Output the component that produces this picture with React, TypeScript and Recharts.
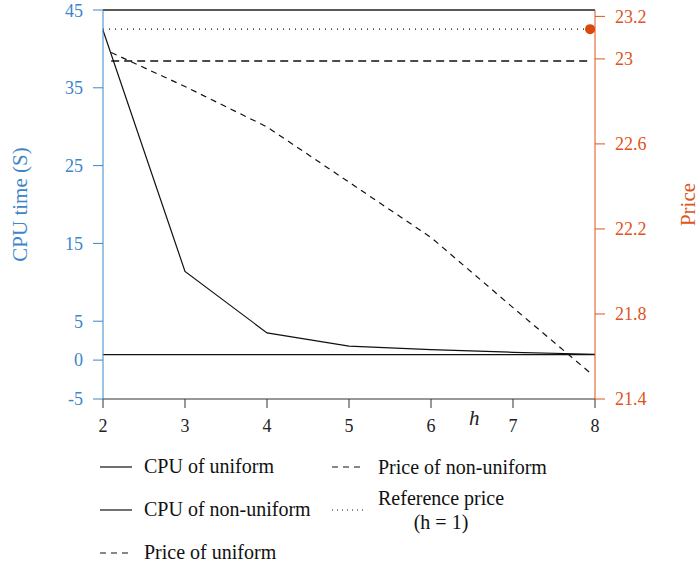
import { LineChart, Line, XAxis, YAxis, Legend, ReferenceLine } from "recharts"

const hTicks = [2, 3, 4, 5, 6, 7, 8]
const cpuTicks = [-5, 0, 5, 15, 25, 35, 45]
const priceTicks = [21.4, 21.8, 22.2, 22.6, 23, 23.2]

const cpuH = [2, 3, 4, 5, 6, 7, 8]
const cpuUniform = [0.7, 0.7, 0.7, 0.7, 0.7, 0.7, 0.7]
const cpuNonUniform = [42.4, 11.4, 3.5, 1.8, 1.35, 1.0, 0.75]

const priceH = [2.1, 3, 4, 5, 6, 7, 7.95]
const priceUniform = [22.99, 22.99, 22.99, 22.99, 22.99, 22.99, 22.99]
const priceNonUniform = [23.03, 22.87, 22.68, 22.42, 22.16, 21.83, 21.52]

const refH = [2, 7.94]
const refPrice = [23.14, 23.14]

const BLUE = "#3d85c8"
const ORANGE = "#e0531b"
const FONT = "'Liberation Serif', 'DejaVu Serif', serif"

const cpuUniformData = cpuH.map((h, i) => ({ h, v: cpuUniform[i] }))
const cpuNonUniformData = cpuH.map((h, i) => ({ h, v: cpuNonUniform[i] }))
const priceUniformData = priceH.map((h, i) => ({ h, v: priceUniform[i] }))
const priceNonUniformData = priceH.map((h, i) => ({ h, v: priceNonUniform[i] }))
const refData = refH.map((h, i) => ({ h, v: refPrice[i] }))

const legendCol1 = [
  { name: "CPU of uniform", dash: undefined },
  { name: "CPU of non-uniform", dash: undefined },
  { name: "Price of uniform", dash: "6 5" },
]
const legendCol2 = [
  { name: "Price of non-uniform", dash: "6 5" },
  { name: "Reference price", sub: "(h = 1)", dash: "1 4" },
]

function Sample({ dash }: { dash?: string }) {
  return (
    <svg width={32} height={10} style={{ display: "block", flexShrink: 0 }}>
      <line x1={0} y1={5} x2={32} y2={5} stroke="#111" strokeWidth={1.2} strokeDasharray={dash} />
    </svg>
  )
}

function LegendBox() {
  const row = { display: "flex", alignItems: "center", height: 43 }
  return (
    <div style={{ display: "flex", fontFamily: FONT, fontSize: 20, color: "#111", whiteSpace: "nowrap" }}>
      <div style={{ width: 232 }}>
        {legendCol1.map((it) => (
          <div key={it.name} style={row}>
            <Sample dash={it.dash} />
            <span style={{ marginLeft: 12 }}>{it.name}</span>
          </div>
        ))}
      </div>
      <div>
        {legendCol2.map((it) => (
          <div key={it.name} style={row}>
            <Sample dash={it.dash} />
            <span style={{ marginLeft: 14, textAlign: "center", lineHeight: "24px" }}>
              {it.name}
              {it.sub && <br />}
              {it.sub}
            </span>
          </div>
        ))}
      </div>
    </div>
  )
}

const endDot = (props: any) => {
  const { cx, cy, index } = props
  if (index !== refData.length - 1) return <g key={index} />
  return <circle key={index} cx={cx} cy={cy} r={5} fill="#d9480f" />
}

export default function App() {
  return (
    <div style={{ position: "absolute", left: 0, top: 0 }}>
      <LineChart width={699} height={571} margin={{ top: 10, right: 0, bottom: 132, left: 0 }}>
        <XAxis
          dataKey="h"
          type="number"
          domain={[2, 8]}
          ticks={hTicks}
          allowDuplicatedCategory={false}
          stroke="#333"
          tickSize={9}
          tickMargin={11}
          height={40}
          tick={{ fill: "#222", fontFamily: FONT, fontSize: 18 }}
          label={{
            content: () => (
              <text x={469} y={425} fontFamily={FONT} fontStyle="italic" fontSize={21} fill="#222">
                h
              </text>
            ),
          }}
        />
        <YAxis
          yAxisId="cpu"
          orientation="left"
          domain={[-5, 45]}
          ticks={cpuTicks}
          width={103}
          stroke={BLUE}
          tickSize={10}
          tickMargin={10}
          tick={{ fill: BLUE, fontFamily: FONT, fontSize: 18 }}
          label={{
            value: "CPU time (S)",
            angle: -90,
            position: "insideLeft",
            offset: 20,
            fill: BLUE,
            fontFamily: FONT,
            fontSize: 21,
            style: { textAnchor: "middle" },
          }}
        />
        <YAxis
          yAxisId="price"
          orientation="right"
          domain={[21.4, 23.23]}
          ticks={priceTicks}
          width={104}
          stroke={ORANGE}
          tickSize={10}
          tickMargin={10}
          tick={{ fill: ORANGE, fontFamily: FONT, fontSize: 18 }}
          label={{
            value: "Price",
            angle: -90,
            position: "insideRight",
            offset: 11,
            fill: ORANGE,
            fontFamily: FONT,
            fontSize: 21,
            style: { textAnchor: "middle" },
          }}
        />
        <ReferenceLine yAxisId="cpu" y={45} stroke="#222" strokeWidth={1.3} />
        <Line
          yAxisId="cpu"
          data={cpuUniformData}
          dataKey="v"
          name="CPU of uniform"
          stroke="#111"
          strokeWidth={1.2}
          dot={false}
          isAnimationActive={false}
        />
        <Line
          yAxisId="cpu"
          data={cpuNonUniformData}
          dataKey="v"
          name="CPU of non-uniform"
          stroke="#111"
          strokeWidth={1.2}
          dot={false}
          isAnimationActive={false}
        />
        <Line
          yAxisId="price"
          data={priceUniformData}
          dataKey="v"
          name="Price of uniform"
          stroke="#111"
          strokeWidth={1.3}
          strokeDasharray="8 5"
          dot={false}
          isAnimationActive={false}
        />
        <Line
          yAxisId="price"
          data={priceNonUniformData}
          dataKey="v"
          name="Price of non-uniform"
          stroke="#111"
          strokeWidth={1.2}
          strokeDasharray="6 5"
          dot={false}
          isAnimationActive={false}
        />
        <Line
          yAxisId="price"
          data={refData}
          dataKey="v"
          name="Reference price (h = 1)"
          stroke="#111"
          strokeWidth={1.2}
          strokeDasharray="1 5"
          dot={endDot}
          isAnimationActive={false}
        />
        <Legend
          layout="horizontal"
          verticalAlign="middle"
          align="center"
          wrapperStyle={{ top: 445, left: 100, width: 540 }}
          content={() => <LegendBox />}
        />
      </LineChart>
    </div>
  )
}
